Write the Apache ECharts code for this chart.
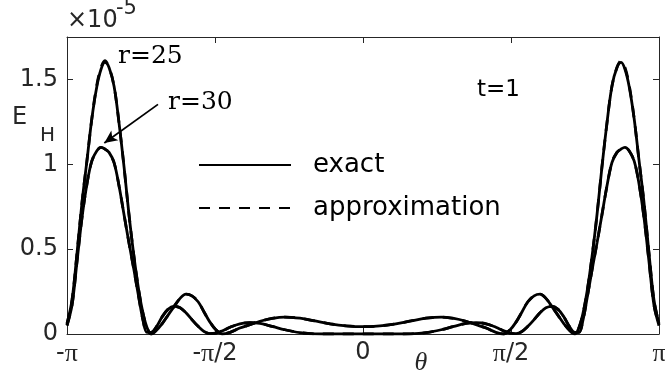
<!DOCTYPE html>
<html>
<head>
<meta charset="utf-8">
<script src="https://cdn.jsdelivr.net/npm/echarts@6/dist/echarts.min.js"></script>
<style>
html,body{margin:0;padding:0;background:#fff;}
#chart{width:665px;height:374px;}
</style>
</head>
<body>
<div id="chart"></div>
<script>
// theta / pi
const thetaOverPi = [-1.000,-0.983,-0.966,-0.949,-0.932,-0.916,-0.899,-0.885,-0.872,-0.858,-0.841,-0.824,-0.807,-0.791,-0.774,-0.757,-0.743,-0.730,-0.716,-0.699,-0.679,-0.659,-0.639,-0.618,-0.598,-0.578,-0.557,-0.537,-0.517,-0.497,-0.476,-0.449,-0.416,-0.382,-0.348,-0.307,-0.264,-0.213,-0.162,-0.111,-0.057,0,
0.057,0.111,0.162,0.213,0.264,0.307,0.348,0.382,0.416,0.449,0.476,0.497,0.517,0.537,0.557,0.578,0.598,0.618,0.639,0.659,0.679,0.699,0.716,0.730,0.743,0.757,0.774,0.791,0.807,0.824,0.841,0.858,0.872,0.885,0.899,0.916,0.932,0.949,0.966,0.983,1.000];

// E_H values in units of 1e-5
const exact25 = [0.06,0.20,0.48,0.78,1.03,1.27,1.46,1.56,1.60,1.57,1.46,1.24,0.98,0.71,0.46,0.25,0.12,0.04,0.00,0.02,0.06,0.11,0.16,0.21,0.235,0.225,0.19,0.13,0.07,0.025,0.00,0.01,0.035,0.055,0.075,0.092,0.10,0.093,0.077,0.060,0.048,0.043,
0.048,0.060,0.077,0.093,0.10,0.092,0.075,0.055,0.035,0.01,0.00,0.025,0.07,0.13,0.19,0.225,0.235,0.21,0.16,0.11,0.06,0.02,0.00,0.04,0.12,0.25,0.46,0.71,0.98,1.24,1.46,1.57,1.60,1.56,1.46,1.27,1.03,0.78,0.48,0.20,0.06];

const exact30 = [0.05,0.17,0.43,0.69,0.89,1.02,1.08,1.10,1.09,1.07,1.01,0.87,0.70,0.54,0.38,0.21,0.08,0.01,0.01,0.04,0.10,0.145,0.163,0.155,0.125,0.085,0.045,0.015,0.002,0.005,0.018,0.04,0.06,0.067,0.062,0.045,0.025,0.008,0.001,0.0,0.0,0.0,
0.0,0.0,0.001,0.008,0.025,0.045,0.062,0.067,0.06,0.04,0.018,0.005,0.002,0.015,0.045,0.085,0.125,0.155,0.163,0.145,0.10,0.04,0.01,0.01,0.08,0.21,0.38,0.54,0.70,0.87,1.01,1.07,1.09,1.10,1.08,1.02,0.89,0.69,0.43,0.17,0.05];

const approx25 = [0.06,0.20,0.48,0.78,1.03,1.27,1.47,1.57,1.61,1.57,1.46,1.24,0.98,0.71,0.46,0.25,0.12,0.04,0.00,0.02,0.06,0.11,0.16,0.21,0.235,0.225,0.19,0.13,0.07,0.025,0.00,0.01,0.035,0.055,0.075,0.092,0.10,0.093,0.077,0.060,0.048,0.043,
0.048,0.060,0.077,0.093,0.10,0.092,0.075,0.055,0.035,0.01,0.00,0.025,0.07,0.13,0.19,0.225,0.235,0.21,0.16,0.11,0.06,0.02,0.00,0.04,0.12,0.25,0.46,0.71,0.98,1.24,1.46,1.57,1.61,1.57,1.47,1.27,1.03,0.78,0.48,0.20,0.06];

const approx30 = [0.05,0.17,0.43,0.69,0.89,1.02,1.08,1.10,1.09,1.07,1.01,0.87,0.70,0.54,0.38,0.21,0.08,0.01,0.01,0.04,0.10,0.145,0.163,0.155,0.125,0.085,0.045,0.015,0.002,0.005,0.018,0.04,0.06,0.067,0.062,0.045,0.025,0.008,0.001,0.0,0.0,0.0,
0.0,0.0,0.001,0.008,0.025,0.045,0.062,0.067,0.06,0.04,0.018,0.005,0.002,0.015,0.045,0.085,0.125,0.155,0.163,0.145,0.10,0.04,0.01,0.01,0.08,0.21,0.38,0.54,0.70,0.87,1.01,1.07,1.09,1.10,1.08,1.02,0.89,0.69,0.43,0.17,0.05];

const xTickLabels = {'-1': '{s|-}{p|π}', '-0.5': '{s|-}{p|π}{s|/2}', '0': '{s|0}', '0.5': '{p|π}{s|/2}', '1': '{p|π}'};
const yTickValues = [0, 0.5, 1, 1.5];
const legendNames = ['exact', 'approximation'];

function pairs(ys) { return thetaOverPi.map((t, i) => [t, ys[i]]); }

const AX = '#262626';
const SANS = 'DejaVu Sans';
const SERIF = 'Liberation Serif';

const chart = echarts.init(document.getElementById('chart'), null, {renderer: 'canvas'});

const solid = {color: '#000', width: 2.8, type: 'solid'};
const dashed = {color: '#000', width: 2.8, type: [11, 9]};

chart.setOption({
  animation: false,
  backgroundColor: '#fff',
  grid: {left: 67, right: 6, top: 37, bottom: 40, containLabel: false, outerBoundsMode: 'none'},
  xAxis: [{
    type: 'value', min: -1, max: 1, interval: 0.5, position: 'bottom',
    axisLine: {show: true, onZero: false, lineStyle: {color: AX, width: 1}},
    axisTick: {show: true, inside: true, length: 6, lineStyle: {color: AX, width: 1}},
    splitLine: {show: false},
    axisLabel: {
      show: true, margin: 7, showMinLabel: true, showMaxLabel: true, color: AX,
      formatter: v => xTickLabels[String(v)] || '',
      rich: {
        s: {fontFamily: SANS, fontSize: 24, color: AX},
        p: {fontFamily: SERIF, fontSize: 26, color: AX}
      }
    }
  }, {
    type: 'value', min: -1, max: 1, interval: 0.5, position: 'top',
    axisLine: {show: true, onZero: false, lineStyle: {color: AX, width: 1}},
    axisTick: {show: true, inside: true, length: 6, lineStyle: {color: AX, width: 1}},
    splitLine: {show: false},
    axisLabel: {show: false}
  }],
  yAxis: [{
    type: 'value', min: 0, max: 1.75, interval: 0.5, position: 'left',
    axisLine: {show: true, onZero: false, lineStyle: {color: AX, width: 1}},
    axisTick: {show: true, inside: true, length: 6, lineStyle: {color: AX, width: 1}},
    splitLine: {show: false},
    axisLabel: {
      show: true, margin: 9, showMaxLabel: false, color: AX, fontFamily: SANS, fontSize: 24,
      formatter: v => (yTickValues.indexOf(v) >= 0 ? String(v) : '')
    }
  }, {
    type: 'value', min: 0, max: 1.75, interval: 0.5, position: 'right',
    axisLine: {show: true, onZero: false, lineStyle: {color: AX, width: 1}},
    axisTick: {show: true, inside: true, length: 6, lineStyle: {color: AX, width: 1}},
    splitLine: {show: false},
    axisLabel: {show: false}
  }],
  legend: {
    show: true, data: legendNames, orient: 'vertical', left: 193, top: 147,
    itemWidth: 92, itemHeight: 14, itemGap: 17, selectedMode: false,
    itemStyle: {color: 'rgba(0,0,0,0)', borderColor: 'rgba(0,0,0,0)', borderWidth: 0, opacity: 0},
    textStyle: {fontFamily: SANS, fontSize: 26, color: '#000', padding: [0, 0, 0, 17]}
  },
  series: [
    {name: 'exact', type: 'line', data: pairs(exact25), showSymbol: false, symbol: 'none', smooth: 0.35, lineStyle: solid, color: '#000',
      markLine: {
        silent: true, animation: false, symbol: ['none', 'arrow'], symbolSize: [9, 13],
        label: {show: false},
        lineStyle: {color: '#000', width: 1.8, type: 'solid'},
        data: [[{coord: [-0.6926, 1.353]}, {coord: [-0.874, 1.125]}]]
      }
    },
    {name: 'exact', type: 'line', data: pairs(exact30), showSymbol: false, symbol: 'none', smooth: 0.35, lineStyle: solid, color: '#000'},
    {name: 'approximation', type: 'line', data: pairs(approx25), showSymbol: false, symbol: 'none', smooth: 0.35, lineStyle: dashed, color: '#000'},
    {name: 'approximation', type: 'line', data: pairs(approx30), showSymbol: false, symbol: 'none', smooth: 0.35, lineStyle: dashed, color: '#000'}
  ],
  graphic: [
    {type: 'text', x: 67, y: 21, style: {text: '×10', font: '24px "DejaVu Sans"', fill: AX, align: 'left', verticalAlign: 'middle'}},
    {type: 'text', x: 116, y: 9, style: {text: '-5', font: '21px "DejaVu Sans"', fill: AX, align: 'left', verticalAlign: 'middle'}},
    {type: 'text', x: 12, y: 118, style: {text: 'E', font: '24px "DejaVu Sans"', fill: AX, align: 'left', verticalAlign: 'middle'}},
    {type: 'text', x: 40, y: 136, style: {text: 'H', font: '20px "DejaVu Sans"', fill: AX, align: 'left', verticalAlign: 'middle'}},
    {type: 'text', x: 421, y: 363, style: {text: 'θ', font: 'italic 26px "Liberation Serif"', fill: AX, align: 'center', verticalAlign: 'middle'}},
    {type: 'text', x: 118, y: 56, style: {text: 'r=25', font: '25px "DejaVu Serif"', fill: '#000', align: 'left', verticalAlign: 'middle'}},
    {type: 'text', x: 168, y: 102, style: {text: 'r=30', font: '25px "DejaVu Serif"', fill: '#000', align: 'left', verticalAlign: 'middle'}},
    {type: 'text', x: 477, y: 90, style: {text: 't=1', font: '23px "DejaVu Sans"', fill: '#000', align: 'left', verticalAlign: 'middle'}}
  ]
});
</script>
</body>
</html>
